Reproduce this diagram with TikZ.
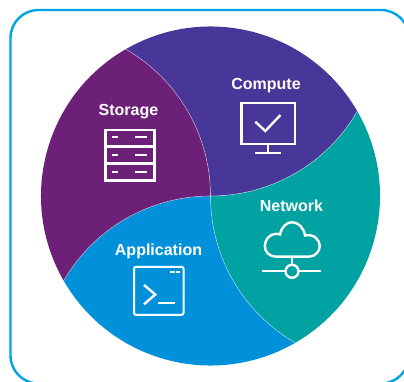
\documentclass[tikz,border=0pt]{standalone}
\usepackage{fontspec}
\setmainfont{Liberation Sans}
\definecolor{cstorage}{HTML}{6D2077}
\definecolor{ccompute}{HTML}{483698}
\definecolor{cnetwork}{HTML}{00A3A1}
\definecolor{capp}{HTML}{0091DA}
\definecolor{cframe}{HTML}{00A3E8}
\tikzset{
  petalline/.style={draw=white,draw opacity=.5,line width=.45pt},
  label/.style={text=white,font=\bfseries\fontsize{12}{14}\selectfont,inner sep=0pt,anchor=center},
  icon/.style={draw=white,line width=1.8pt,line cap=butt,line join=miter},
}
\newcommand{\petal}[2]{%
  \pgfmathsetmacro{\aa}{#1}\pgfmathsetmacro{\ab}{#1+60}\pgfmathsetmacro{\ac}{#1+120}%
  \pgfmathsetmacro{\ad}{#1+30}\pgfmathsetmacro{\ae}{#1-30}\pgfmathsetmacro{\af}{#1-90}%
  \fill[#2] (210.5,186) arc[start angle=\aa,end angle=\ab,radius=169.5]
      arc[start angle=\ac,end angle=\ad,radius=169.5]
      arc[start angle=\ae,end angle=\af,radius=169.5] -- cycle;}
\newcommand{\seam}[1]{%
  \pgfmathsetmacro{\ab}{#1+60}%
  \draw[petalline] (210.5,186) arc[start angle=#1,end angle=\ab,radius=169.5];}
\begin{document}
\begin{tikzpicture}[x=.75pt,y=.75pt]
\useasboundingbox (0,0) rectangle (404,382);
\begin{scope}
  \clip (0,0) rectangle (404,382);
  \draw[cframe,line width=1.8pt,rounded corners=21pt] (10.5,-1.5) rectangle (409,372);
\end{scope}
\petal{0}{ccompute}
\petal{-90}{cnetwork}
\petal{-180}{capp}
\petal{-270}{cstorage}
\seam{0}\seam{-90}\seam{-180}\seam{-270}
\node[label] (storage) at (128.5,270) {Storage};
\node[label] (compute) at (266,296) {Compute};
\node[label] (network) at (291.5,176.3) {Network};
\node[label] (application) at (158.5,130.5) {Application};
\begin{scope}[shift={(0,382)},yscale=-1]
  % storage
  \draw[icon] (105.5,130) rectangle (154.5,180.5);
  \draw[icon] (105.5,146.5) -- (154.5,146.5) (105.5,163.5) -- (154.5,163.5);
  \foreach \yy in {137.3,155,172.3}
    \draw[icon] (112,\yy) -- (118,\yy) (135,\yy) -- (147,\yy);
  % compute
  \draw[icon] (241.5,103) rectangle (295,144);
  \draw[icon] (267.7,144) -- (267.7,153.3) (255.3,153.3) -- (281.3,153.3);
  \draw[icon] (255.3,121.7) -- (265.3,131) -- (280.5,115);
  % network
  \draw[icon] (276,256.7) .. controls (269,256.7) and (264.8,251.5) .. (264.8,246)
    .. controls (264.8,239.5) and (270,233.8) .. (276,233.8)
    .. controls (277,233.8) and (278.5,234) .. (280,234.5)
    .. controls (281.5,227) and (286.5,222.2) .. (292,222.2)
    .. controls (298.5,222.2) and (304,228) .. (305,235.5)
    .. controls (314,233.5) and (319.8,240) .. (319.8,246)
    .. controls (319.8,251.5) and (315,256.7) .. (309,256.7) -- cycle;
  \draw[icon] (292,256.7) -- (292,264.8);
  \draw[icon] (262,271.3) -- (285.5,271.3) (298.5,271.3) -- (321.3,271.3);
  \draw[icon] (292,271.3) circle[radius=6.5];
  % application
  \draw[icon,rounded corners=1.5pt,line width=1.5pt] (134,266.8) rectangle (183.5,314.8);
  \draw[icon] (170,272) -- (175,272) (176.3,272) -- (180,272);
  \draw[icon] (144,285) -- (155.3,294.5) -- (144,304.3);
  \draw[icon] (158.3,303.3) -- (175.3,303.3);
\end{scope}
\end{tikzpicture}
\end{document}
